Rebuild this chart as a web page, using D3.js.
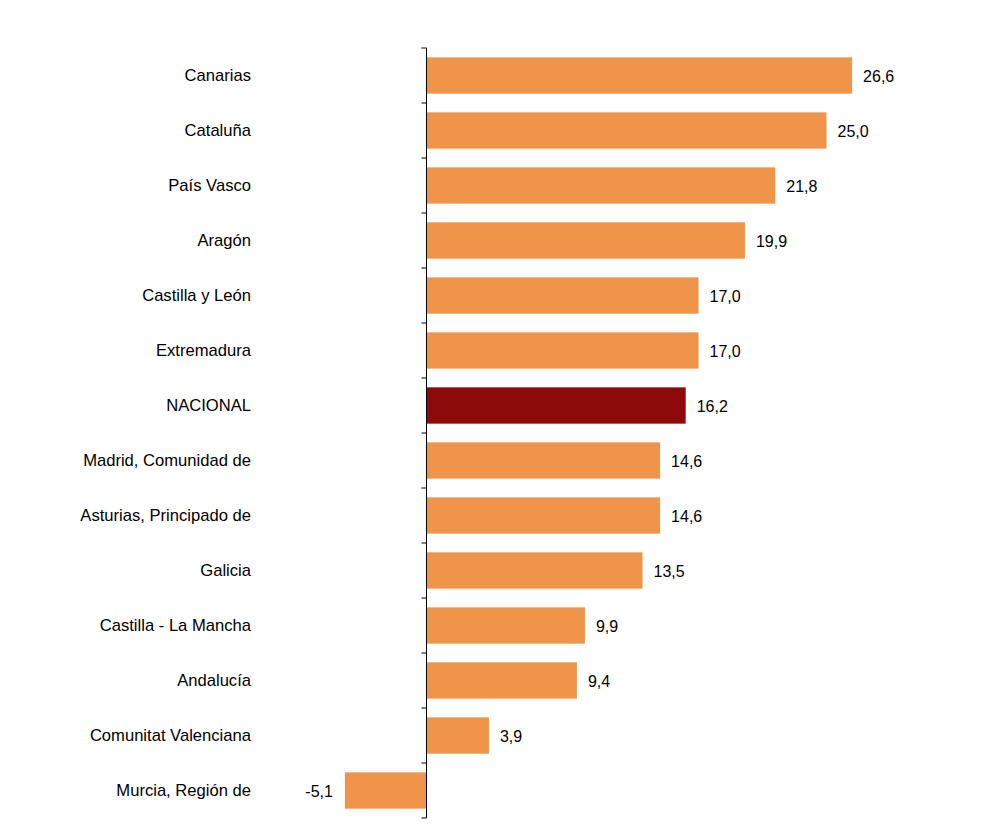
<!DOCTYPE html>
<html><head><meta charset="utf-8">
<script src="https://cdn.jsdelivr.net/npm/d3@7"></script>
<style>body{margin:0;background:#fff}</style>
</head><body>
<svg id="c" width="1001" height="840"></svg>
<script>
const categories = ["Canarias","Cataluña","País Vasco","Aragón","Castilla y León","Extremadura","NACIONAL","Madrid, Comunidad de","Asturias, Principado de","Galicia","Castilla - La Mancha","Andalucía","Comunitat Valenciana","Murcia, Región de"];
const values = [26.6,25.0,21.8,19.9,17.0,17.0,16.2,14.6,14.6,13.5,9.9,9.4,3.9,-5.1];
const highlight = "NACIONAL";

const svg = d3.select("#c");
const x = d3.scaleLinear().domain([-10,30]).range([266.5,906.5]);
const y = d3.scaleBand().domain(categories).range([48,818]).paddingInner(0.34).paddingOuter(0.17);
const fmt = v => d3.format(".1f")(v).replace(".",",").replace("−","-");

svg.selectAll("rect.bar").data(categories).join("rect")
  .attr("x", (d,i)=>Math.min(x(0),x(values[i])))
  .attr("width", (d,i)=>Math.abs(x(values[i])-x(0)))
  .attr("y", d=>y(d)).attr("height", y.bandwidth())
  .attr("fill", d=> d===highlight ? "#8c0b0a" : "#ef9449");

svg.selectAll("text.val").data(categories).join("text")
  .attr("x",(d,i)=> values[i]>=0 ? x(values[i])+11 : x(values[i])-12)
  .attr("y", d=>y(d)+y.bandwidth()/2+1)
  .attr("dy","0.35em")
  .attr("text-anchor",(d,i)=> values[i]>=0 ? "start":"end")
  .attr("font-family","Liberation Sans, Arial, sans-serif").attr("font-size",16)
  .attr("fill","#000")
  .text((d,i)=>fmt(values[i]));

svg.selectAll("text.cat").data(categories).join("text")
  .attr("x",251).attr("y", d=>y(d)+y.bandwidth()/2)
  .attr("dy","0.35em").attr("text-anchor","end")
  .attr("font-family","Liberation Sans, Arial, sans-serif").attr("font-size",16.6)
  .attr("fill","#000").text(d=>d);

// axis line and ticks at category boundaries
const step = y.step();
const bounds = d3.range(categories.length+1).map(i=>48+i*step);
svg.append("line").attr("x1",x(0)).attr("x2",x(0)).attr("y1",48).attr("y2",818).attr("stroke","#000").attr("stroke-width",1);
svg.selectAll("line.tk").data(bounds).join("line")
  .attr("x1",x(0)-5).attr("x2",x(0)).attr("y1",d=>d).attr("y2",d=>d)
  .attr("stroke","#000").attr("stroke-width",1);
</script>
</body></html>
